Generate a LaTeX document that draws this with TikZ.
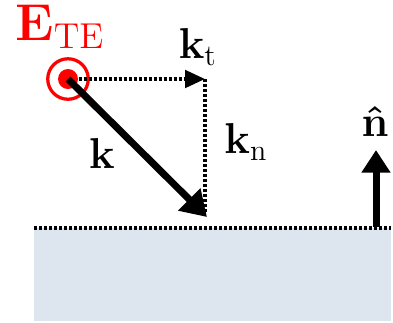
\documentclass[tikz,border=0pt]{standalone}
\usepackage{amsmath, amssymb}
\usepackage{xcolor}
\usetikzlibrary{arrows.meta, positioning}
\definecolor{tefieldred}{HTML}{FF0000}
\definecolor{surfaceblue}{HTML}{DDE5EF}

\begin{document}
\begin{tikzpicture}[x=0.4pt, y=-0.4pt,
    dotline/.style={line width=1.4pt, dash pattern=on 1.2pt off 0.8pt},
    thickvec/.style={line width=2.8pt},
    veclabel/.style={font=\LARGE, inner sep=0pt}]
  \useasboundingbox (0,0) rectangle (393,322);
  % surface
  \fill[surfaceblue] (34,228) rectangle (391,321);
  \coordinate (surfl) at (34,228);
  \coordinate (surfr) at (391,228);
  \draw[dotline] (surfl) -- (surfr);
  % wave vector and its parts
  \node[circle, draw=tefieldred, line width=1.3pt, minimum size=16.2pt, inner sep=0pt] (src) at (68,79) {};
  \node[circle, fill=tefieldred, minimum size=8pt, inner sep=0pt] (srcdot) at (src.center) {};
  \coordinate (corner) at (205,79);
  \coordinate (ktip) at (207,217);
  \coordinate (kfoot) at (205,212);
  \draw[dotline, -{Triangle[length=8pt, width=7pt]}] (srcdot.east) -- (corner);
  \draw[dotline] (corner) -- (kfoot);
  \draw[thickvec, -{Triangle[length=10pt, width=12pt]}] (src.center) -- (ktip);
  % normal
  \coordinate (nbase) at (376,227);
  \coordinate (ntip) at (376,150);
  \draw[thickvec, -{Triangle[length=9pt, width=11pt]}] (nbase) -- (ntip);
  % labels
  \node[font=\huge, text=tefieldred, inner sep=0pt] (elabel) at (60,27) {$\mathbf{E}_{\mathrm{TE}}$};
  \node[veclabel] (ktlabel) at (198,47) {$\mathbf{k}_{\mathrm{t}}$};
  \node[veclabel] (knlabel) at (246,142) {$\mathbf{k}_{\mathrm{n}}$};
  \node[veclabel] (klabel) at (102,153) {$\mathbf{k}$};
  \node[veclabel] (nlabel) at (375,121) {$\boldsymbol{\hat{\mathbf{n}}}$};
\end{tikzpicture}
\end{document}
